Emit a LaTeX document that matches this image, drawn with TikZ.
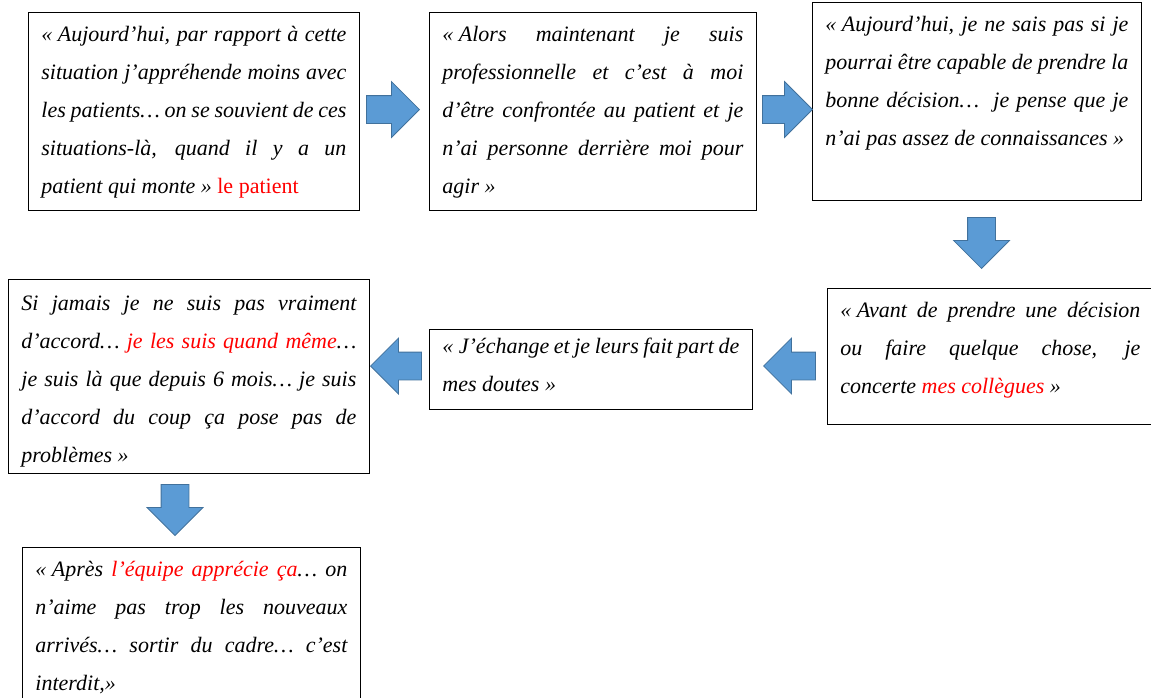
\documentclass[tikz,border=0pt]{standalone}
\usepackage{fontspec}
\setmainfont{Liberation Serif}
\usepackage{xcolor}
\definecolor{FlecheBleu}{rgb}{0.357, 0.608, 0.835}
\definecolor{FlecheBord}{rgb}{0.255, 0.443, 0.612}
\usepackage{tikz}
\usetikzlibrary{shapes.arrows}
\newcommand{\ouv}{«\hspace{0.25em}}
\newcommand{\fer}{\hspace{0.25em}»}

\begin{document}
\begin{tikzpicture}[x=1pt, y=-1pt,
    citation/.style={draw, line width=0.8pt, anchor=north west, align=justify, inner xsep=13pt, inner ysep=10.5pt,
        text height=18.5pt, font=\fontsize{22}{38}\selectfont\itshape},
    fleche/.style={single arrow, draw=FlecheBord, fill=FlecheBleu, line width=0.8pt, inner xsep=0pt, inner ysep=13.5pt,
        minimum height=52pt, minimum width=55pt, single arrow head extend=14pt, single arrow tip angle=90, anchor=tip}]
                                \useasboundingbox (0,0) rectangle (1151,697);

                                \node[citation, text width=305pt, text depth=158.5pt] (q1) at (28,12)
                                    {\ouv Aujourd’hui, par rapport à cette\linebreak situation j’appréhende moins avec\linebreak les patients… on se souvient de ces\linebreak situations-là, quand il y a un\linebreak patient qui monte\fer{} {\upshape\color{red}le patient}};
                                \node[citation, text width=301pt, text depth=158.5pt] (q2) at (429,12)
                                    {\ouv Alors maintenant je suis\linebreak professionnelle et c’est à moi\linebreak d’être confrontée au patient et je\linebreak n’ai personne derrière moi pour\linebreak agir\fer};
                                \node[citation, text width=303pt, text depth=158.5pt] (q3) at (812,2)
                                    {\ouv Aujourd’hui, je ne sais pas si je\linebreak pourrai être capable de prendre la\linebreak bonne décision…\ \ je pense que je\linebreak n’ai pas assez de connaissances\fer};
                                \node[citation, text width=300pt, text depth=96.5pt] (q4) at (827,288)
                                    {\ouv Avant de prendre une décision\linebreak ou faire quelque chose, je\linebreak concerte {\color{red}mes collègues}\fer};
                                \node[citation, text width=297pt, text height=13.5pt, text depth=45.5pt] (q5) at (429,329)
                                    {\ouv J’échange et je leurs fait part de\linebreak mes doutes\fer};
                                \node[citation, text width=335pt, text height=20.5pt, text depth=152.5pt] (q6) at (8,279)
                                    {Si jamais je ne suis pas vraiment\linebreak d’accord… {\color{red}je les suis quand même}…\linebreak je suis là que depuis 6 mois… je suis\linebreak d’accord du coup ça pose pas de\linebreak problèmes\fer};
                                \node[citation, text width=312pt, text depth=170.5pt] (q7) at (22,547)
                                    {\ouv Après {\color{red}l’équipe apprécie ça}… on\linebreak n’aime pas trop les nouveaux\linebreak arrivés… sortir du cadre… c’est\linebreak interdit,»};

                                \node[fleche, minimum height=53pt] (f1) at (420,109.5) {};
                                \node[fleche, minimum height=50pt] (f2) at (813,109.5) {};
                                \node[fleche, rotate=-90, minimum height=51pt] (f3) at (981.5,269) {};
                                \node[fleche, rotate=180] (f4) at (763,366) {};
                                \node[fleche, rotate=180, minimum height=51pt] (f5) at (370,366) {};
                                \node[fleche, rotate=-90, minimum height=51pt] (f6) at (175,536) {};
                            \end{tikzpicture}
\end{document}
